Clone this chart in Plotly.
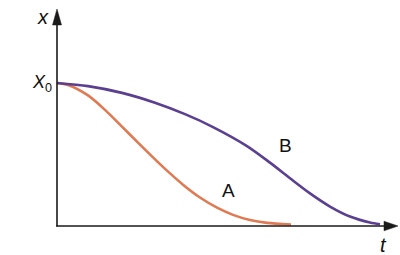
import plotly.graph_objects as go

# Data (t in arbitrary units, x relative to X0)
t_A = [0, 0.341, 0.960, 1.486, 2.012, 2.508, 2.972, 3.406, 3.901, 4.427, 4.954, 5.449, 5.975, 6.502, 7.245]
x_A = [1.000, 0.986, 0.913, 0.812, 0.695, 0.583, 0.480, 0.387, 0.289, 0.199, 0.128, 0.078, 0.042, 0.022, 0.010]
t_B = [0, 0.960, 2.012, 3.034, 3.963, 4.830, 5.882, 6.594, 7.214, 7.833, 8.452, 9.071, 9.690, 10.0]
x_B = [1.000, 0.978, 0.931, 0.862, 0.782, 0.692, 0.559, 0.443, 0.334, 0.228, 0.136, 0.066, 0.024, 0.012]
labels = ["A", "B"]
label_pos_t = [5.31, 7.07]
label_pos_x = [0.248, 0.563]

W, H = 400, 255
def px(x):
    return x / W
def py(y):
    return 1 - y / H

ORANGE = "#e07a52"
PURPLE = "#5b3f90"
AXIS = "#1a1a1a"
FONT = "Liberation Sans, Arial, sans-serif"

fig = go.Figure()
fig.add_trace(go.Scatter(x=t_A, y=x_A, mode="lines",
                         line=dict(color=ORANGE, width=2.6, shape="spline", smoothing=0.8),
                         hoverinfo="skip"))
fig.add_trace(go.Scatter(x=t_B, y=x_B, mode="lines",
                         line=dict(color=PURPLE, width=2.6, shape="spline", smoothing=0.8),
                         hoverinfo="skip"))

shapes = [
    # y axis
    dict(type="line", xref="paper", yref="paper", x0=px(57), y0=py(226.5), x1=px(57), y1=py(22),
         line=dict(color=AXIS, width=1.6)),
    # x axis
    dict(type="line", xref="paper", yref="paper", x0=px(56.2), y0=py(226), x1=px(386), y1=py(226),
         line=dict(color=AXIS, width=1.6)),
    # arrowheads
    dict(type="path", xref="paper", yref="paper",
         path=f"M {px(57)},{py(9)} L {px(52.5)},{py(25)} L {px(61.5)},{py(25)} Z",
         fillcolor=AXIS, line=dict(color=AXIS, width=0.5)),
    dict(type="path", xref="paper", yref="paper",
         path=f"M {px(398)},{py(226)} L {px(384)},{py(221.2)} L {px(384)},{py(230.8)} Z",
         fillcolor=AXIS, line=dict(color=AXIS, width=0.5)),
]

annotations = [
    dict(text="<i>x</i>", xref="paper", yref="paper", x=px(43), y=py(17), showarrow=False,
         xanchor="center", yanchor="middle", font=dict(family=FONT, size=20, color="#111")),
    dict(text="<i>t</i>", xref="paper", yref="paper", x=px(383), y=py(245), showarrow=False,
         xanchor="center", yanchor="middle", font=dict(family=FONT, size=20, color="#111")),
    dict(text="<i>X</i><sub>0</sub>", xref="paper", yref="y", x=px(54), y=1.0, showarrow=False,
         xanchor="right", yanchor="middle", font=dict(family=FONT, size=18, color="#111")),
]
for lab, tt, xx in zip(labels, label_pos_t, label_pos_x):
    annotations.append(dict(text=lab, x=tt, y=xx, xref="x", yref="y", showarrow=False,
                            xanchor="center", yanchor="middle",
                            font=dict(family=FONT, size=19, color="#111")))

fig.update_layout(
    width=W, height=H, margin=dict(l=0, r=0, t=0, b=0),
    paper_bgcolor="white", plot_bgcolor="white", showlegend=False,
    xaxis=dict(range=[-57 / 32.3, (400 - 57) / 32.3], visible=False, fixedrange=True),
    yaxis=dict(range=[-(255 - 226) / 143, 226 / 143], visible=False, fixedrange=True),
    shapes=shapes, annotations=annotations,
)
fig.write_html("out.html", config={"displayModeBar": False})
